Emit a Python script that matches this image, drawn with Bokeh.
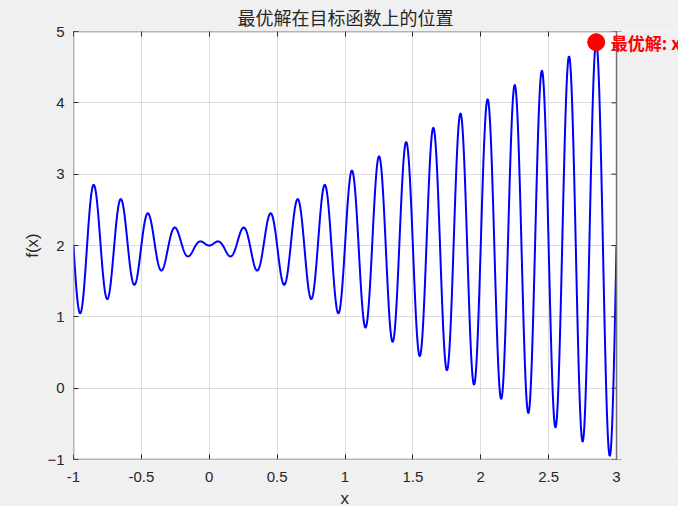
import numpy as np
from bokeh.plotting import figure
from bokeh.models import LinearAxis, Range1d, FixedTicker, Label, Title, BoxAnnotation
from bokeh.embed import file_html
from bokeh.resources import INLINE

# Objective function parameters: f(x) = x * sin(freq * pi * x) + offset
x_min, x_max = -1.0, 3.0
freq = 10.0
offset = 2.0
n_samples = 2000

# Optimum found
best_x = [2.8505]
best_f = [4.8503]
best_label = "最优解: x=2.8505, f(x)=4.8503"

x_ticks = [-1, -0.5, 0, 0.5, 1, 1.5, 2, 2.5, 3]
y_ticks = [-1, 0, 1, 2, 3, 4, 5]
title_text = "最优解在目标函数上的位置"
x_label = "x"
y_label = "f(x)"

xs = np.linspace(x_min, x_max, n_samples)
fs = xs * np.sin(freq * np.pi * xs) + offset

# layout (pixels)
AX_L, AX_R, AX_T, AX_B = 73, 616, 31, 459
CANVAS_W = 678
frame_w = CANVAS_W - AX_L
frame_h = AX_B - AX_T
px_per_x = (AX_R - AX_L) / (x_max - x_min)
x_view_end = x_max + (CANVAS_W - AX_R) / px_per_x

p = figure(frame_width=frame_w, frame_height=frame_h, output_backend="svg", toolbar_location=None,
           x_range=Range1d(x_min, x_view_end), y_range=Range1d(y_ticks[0], y_ticks[-1]),
           min_border_left=AX_L, min_border_right=0, min_border_top=0, min_border_bottom=0)
p.border_fill_color = "#f0f0f0"
p.background_fill_color = "white"
p.outline_line_color = None

axis_color = "#262626"
label_color = "#262626"
for ax in p.xaxis + p.yaxis:
    ax.major_tick_in = 5
    ax.major_tick_out = 0
    ax.minor_tick_in = 0
    ax.minor_tick_out = 0
    ax.axis_line_color = None
    ax.major_tick_line_color = axis_color
    ax.major_label_text_font = "Liberation Sans"
    ax.major_label_text_font_size = "15px"
    ax.major_label_text_color = label_color
    ax.axis_label_text_font = "Liberation Sans"
    ax.axis_label_text_font_size = "17px"
    ax.axis_label_text_font_style = "normal"
    ax.axis_label_text_color = label_color

p.xaxis.ticker = FixedTicker(ticks=x_ticks)
p.yaxis.ticker = FixedTicker(ticks=y_ticks)
p.xaxis.major_label_overrides = {v: ("%g" % v) for v in x_ticks}
p.yaxis.axis_label = y_label
p.xaxis.major_label_standoff = 12
p.yaxis.major_label_standoff = 9
p.yaxis.axis_label_standoff = 2

top = LinearAxis(ticker=FixedTicker(ticks=x_ticks), major_label_text_font_size="1px",
                 major_label_text_alpha=0, major_label_standoff=0,
                 major_tick_in=5, major_tick_out=0, minor_tick_in=0, minor_tick_out=0,
                 axis_line_color=None, major_tick_line_color=axis_color)
p.add_layout(top, "above")

t = Title(text=title_text, align="left", text_font="Noto Sans CJK SC",
          text_font_size="18px", text_font_style="normal", text_color="#262626",
          standoff=3, offset=164)
p.add_layout(t, "above")

xl = Title(text=x_label, align="left", text_font="Liberation Sans",
           text_font_size="17px", text_font_style="normal", text_color=label_color,
           standoff=4, offset=267)
p.add_layout(xl, "below")

p.grid.grid_line_color = "#dcdcdc"
p.grid.grid_line_width = 1
p.xgrid.ticker = FixedTicker(ticks=x_ticks)
p.ygrid.ticker = FixedTicker(ticks=y_ticks)

p.line(xs, fs, line_color="#0000ff", line_width=2)
# inward ticks on the right edge of the axes box (outer half hidden by the grey panel)
p.scatter([x_max] * len(y_ticks), y_ticks, marker="dash", size=10, line_color=axis_color, line_width=1)
p.scatter(best_x, best_f, size=17, fill_color="#ff0000", line_color="#ff0000")

outside = BoxAnnotation(left=x_max, fill_color="#f0f0f0", fill_alpha=1.0, line_alpha=0)
p.add_layout(outside)
box = BoxAnnotation(left=x_min, right=x_max, bottom=y_ticks[0], top=y_ticks[-1],
                    fill_alpha=0, line_color="#707070", line_alpha=1.0, line_width=1.5)
p.add_layout(box)

lbl = Label(x=best_x[0] + 0.1, y=best_f[0], text=best_label, text_color="#ff0000",
            text_font="Noto Sans CJK SC", text_font_style="bold", text_font_size="17px",
            text_baseline="middle", text_align="left", x_offset=1)
p.add_layout(lbl)

html = file_html(p, INLINE)
html = html.replace("</head>", "<style>html,body{background-color:#f0f0f0;margin:0;padding:0;overflow:hidden;}</style></head>", 1)
open("out.html", "w").write(html)
